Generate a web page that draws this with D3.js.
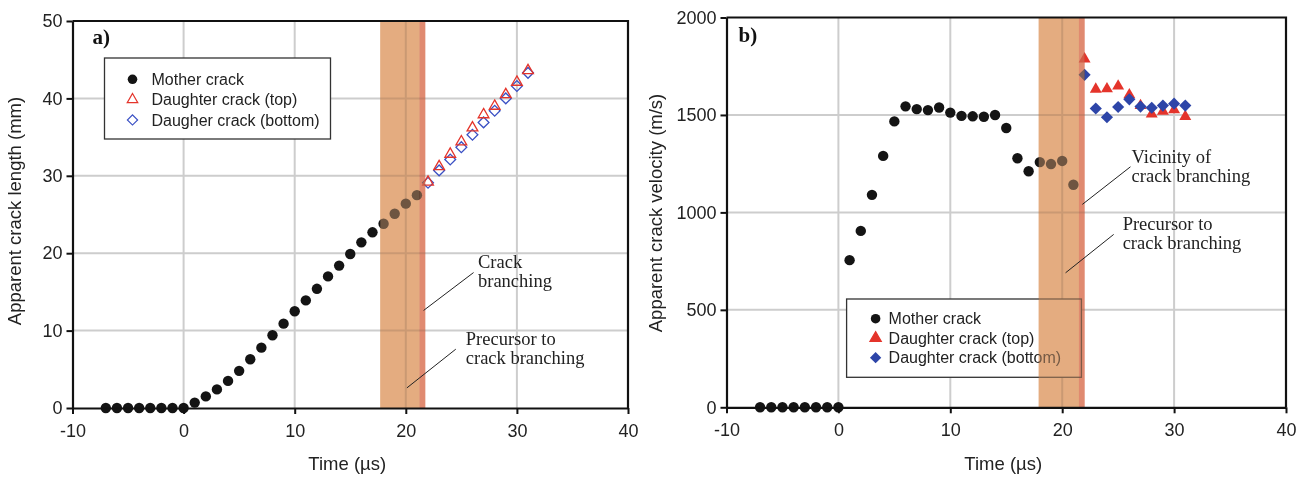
<!DOCTYPE html>
<html>
<head>
<meta charset="utf-8">
<script src="https://cdn.jsdelivr.net/npm/d3@7"></script>
<style>
  html, body { margin: 0; padding: 0; background: #fff; }
  svg { display: block; }
  .tick text { font-family: "Liberation Sans", Arial, sans-serif; font-size: 18px; fill: #222; }
  .axis-title { font-family: "Liberation Sans", Arial, sans-serif; font-size: 18.5px; fill: #222; }
  .legend-text { font-family: "Liberation Sans", Arial, sans-serif; font-size: 16px; fill: #222; }
  .note { font-family: "Liberation Serif", "Times New Roman", serif; font-size: 18.5px; fill: #222; }
  .panel-tag { font-family: "Liberation Serif", "Times New Roman", serif; font-size: 21px; font-weight: bold; fill: #111; }
</style>
</head>
<body>
<svg id="chart" width="1310" height="477"></svg>
<script>
// ---- data -------------------------------------------------------------
const timeMother = [-7, -6, -5, -4, -3, -2, -1, 0, 1, 2, 3, 4, 5, 6, 7, 8, 9, 10,
                    11, 12, 13, 14, 15, 16, 17, 18, 19, 20, 21];
const timeDaughter = [22, 23, 24, 25, 26, 27, 28, 29, 30, 31];

// crack length (mm)
const lengthMother = [0, 0, 0, 0, 0, 0, 0, 0, 0.7, 1.5, 2.4, 3.5, 4.8, 6.3, 7.8, 9.4,
                      10.9, 12.5, 13.9, 15.4, 17.0, 18.4, 19.9, 21.4, 22.7, 23.8, 25.1, 26.4, 27.5];
const lengthTop    = [29.2, 31.2, 32.8, 34.4, 36.2, 37.9, 39.0, 40.5, 42.1, 43.6];
const lengthBottom = [29.1, 30.7, 32.1, 33.7, 35.3, 36.9, 38.4, 40.0, 41.6, 43.3];

// crack velocity (m/s)
const velocityMother = [0, 0, 0, 0, 0, 0, 0, 0, 755, 905, 1090, 1290, 1467, 1544, 1530, 1525,
                        1538, 1512, 1495, 1493, 1491, 1500, 1433, 1278, 1211, 1258, 1248, 1264, 1142];
const velocityTop    = [1787, 1632, 1634, 1648, 1603, 1548, 1504, 1519, 1526, 1492];
const velocityBottom = [1706, 1533, 1488, 1541, 1580, 1543, 1537, 1548, 1558, 1548];

// axis ticks
const timeTicks = [-10, 0, 10, 20, 30, 40];
const lengthTicks = [0, 10, 20, 30, 40, 50];
const velocityTicks = [0, 500, 1000, 1500, 2000];

// shaded time windows [precursor start, branching start, branching end] (µs)
const bandLength = [17.7, 21.25, 21.75];
const bandVelocity = [17.9, 21.5, 22.0];

// legend labels
const legendLength = ["Mother crack", "Daughter crack (top)", "Daugher crack (bottom)"];
const legendVelocity = ["Mother crack", "Daughter crack (top)", "Daughter crack (bottom)"];

// ---- drawing ----------------------------------------------------------
const svg = d3.select("#chart");
svg.append("rect").attr("width", 1310).attr("height", 477).attr("fill", "#fff");

const RED = "#e4342b", BLUE = "#2d45a8", BLACK = "#141414";
const plainNumber = d => String(d);   // keeps an ASCII hyphen on negatives

function zip(xs, ys) { return xs.map((t, i) => [t, ys[i]]); }

function drawPanel(o) {
  const f = o.frame;
  const x = d3.scaleLinear().domain([-10, 40]).range([f.left, f.right]);
  const y = d3.scaleLinear().domain([o.yTicks[0], o.yTicks[o.yTicks.length - 1]]).range([f.bottom, f.top]);
  const g = svg.append("g");

  // grid
  const grid = g.append("g").attr("stroke", "#cdcdcd").attr("stroke-width", 2);
  grid.selectAll(".gx").data(timeTicks.slice(1, -1)).join("line")
    .attr("x1", d => x(d)).attr("x2", d => x(d)).attr("y1", f.top).attr("y2", f.bottom);
  grid.selectAll(".gy").data(o.yTicks.slice(1, -1)).join("line")
    .attr("x1", f.left).attr("x2", f.right).attr("y1", d => y(d)).attr("y2", d => y(d));

  // legend
  const lg = g.append("g");
  const L = o.legend;
  lg.append("rect").attr("x", L.x).attr("y", L.y).attr("width", L.w).attr("height", L.h)
    .attr("fill", "#fff").attr("stroke", "#333").attr("stroke-width", 1.3);
  const symbols = [
    {type: d3.symbolCircle, size: 72, fill: BLACK, stroke: "none", rot: 0},
    {type: d3.symbolTriangle, size: o.filled ? 56 : 48, fill: o.filled ? RED : "none", stroke: RED, rot: 0},
    {type: d3.symbolSquare, size: o.filled ? 64 : 52, fill: o.filled ? BLUE : "none", stroke: o.filled ? "none" : "#3a50c4", rot: 45}
  ];
  L.labels.forEach((lab, i) => {
    const s = symbols[i];
    const cy = L.y + L.row0 + i * L.rowStep;
    lg.append("path").attr("d", d3.symbol().type(s.type).size(s.size)())
      .attr("transform", `translate(${L.x + L.mx},${cy}) rotate(${s.rot})`)
      .attr("fill", s.fill).attr("stroke", s.stroke).attr("stroke-width", 1.2);
    lg.append("text").attr("class", "legend-text").attr("x", L.x + L.tx).attr("y", cy).attr("dy", "0.36em").text(lab);
  });

  // marks
  const marks = g.append("g");
  marks.selectAll(".m").data(zip(timeMother, o.mother)).join("circle")
    .attr("cx", d => x(d[0])).attr("cy", d => y(d[1])).attr("r", 5.2).attr("fill", BLACK);
  if (o.filled) {
    marks.selectAll(".t").data(zip(timeDaughter, o.top)).join("path")
      .attr("d", d3.symbol().type(d3.symbolTriangle).size(62)())
      .attr("transform", d => `translate(${x(d[0])},${y(d[1])})`).attr("fill", RED);
    marks.selectAll(".b").data(zip(timeDaughter, o.bottom)).join("path")
      .attr("d", d3.symbol().type(d3.symbolSquare).size(74)())
      .attr("transform", d => `translate(${x(d[0])},${y(d[1])}) rotate(45)`).attr("fill", BLUE);
  } else {
    marks.selectAll(".b").data(zip(timeDaughter, o.bottom)).join("path")
      .attr("d", d3.symbol().type(d3.symbolSquare).size(58)())
      .attr("transform", d => `translate(${x(d[0])},${y(d[1])}) rotate(45)`)
      .attr("fill", "none").attr("stroke", "#3a50c4").attr("stroke-width", 1.3);
    marks.selectAll(".t").data(zip(timeDaughter, o.top)).join("path")
      .attr("d", d3.symbol().type(d3.symbolTriangle).size(50)())
      .attr("transform", d => `translate(${x(d[0])},${y(d[1])})`)
      .attr("fill", "none").attr("stroke", RED).attr("stroke-width", 1.3);
  }

  // shaded windows: multiply tint plus a translucent veil
  const b = o.band;
  const spans = [
    {a: b[0], z: b[1], mult: "rgb(233,171,124)"},
    {a: b[1], z: b[2], mult: "rgb(226,110,96)"}
  ];
  spans.forEach(s => {
    g.append("rect").attr("x", x(s.a)).attr("width", x(s.z) - x(s.a))
      .attr("y", f.top).attr("height", f.bottom - f.top)
      .attr("fill", s.mult).style("mix-blend-mode", "multiply");
    g.append("rect").attr("x", x(s.a)).attr("width", x(s.z) - x(s.a))
      .attr("y", f.top).attr("height", f.bottom - f.top)
      .attr("fill", "rgb(222,173,133)").attr("fill-opacity", 0.45);
  });

  // annotations
  const an = g.append("g");
  o.notes.forEach(n => {
    an.append("line").attr("x1", x(n.from[0])).attr("y1", y(n.from[1]))
      .attr("x2", x(n.to[0])).attr("y2", y(n.to[1])).attr("stroke", "#222").attr("stroke-width", 1);
    const t = an.append("text").attr("class", "note").attr("x", x(n.at[0])).attr("y", y(n.at[1]));
    n.lines.forEach((ln, i) => t.append("tspan").attr("x", x(n.at[0])).attr("dy", i ? n.lh : 0).text(ln));
  });

  // axes and frame
  const ax = g.append("g").attr("transform", `translate(0,${f.bottom})`)
    .call(d3.axisBottom(x).tickValues(timeTicks).tickSize(6).tickSizeOuter(0).tickPadding(10).tickFormat(plainNumber));
  const ay = g.append("g").attr("transform", `translate(${f.left},0)`)
    .call(d3.axisLeft(y).tickValues(o.yTicks).tickSize(6).tickSizeOuter(0).tickPadding(4).tickFormat(plainNumber));
  [ax, ay].forEach(a => {
    a.select(".domain").attr("stroke", "#111").attr("stroke-width", 2.2);
    a.selectAll(".tick line").attr("stroke", "#111").attr("stroke-width", 2);
  });
  g.append("path").attr("d", `M${f.left},${f.top}H${f.right}V${f.bottom}`)
    .attr("fill", "none").attr("stroke", "#111").attr("stroke-width", 2.2);

  // titles
  g.append("text").attr("class", "axis-title").attr("text-anchor", "middle")
    .attr("x", (f.left + f.right) / 2 - 3).attr("y", 470).text("Time (µs)");
  g.append("text").attr("class", "axis-title").attr("text-anchor", "middle")
    .attr("transform", `translate(${o.yTitleX},${o.yTitleY}) rotate(-90)`).text(o.yTitle);
  g.append("text").attr("class", "panel-tag").attr("x", f.left + o.tag[0]).attr("y", f.top + o.tag[1]).text(o.tagText);
}

drawPanel({
  frame: {left: 72.5, right: 628, top: 21, bottom: 408},
  yTicks: lengthTicks,
  mother: lengthMother, top: lengthTop, bottom: lengthBottom,
  filled: false,
  band: bandLength,
  legend: {x: 104.5, y: 58, w: 226, h: 81, mx: 28, tx: 47, row0: 21.3, rowStep: 20.3, labels: legendLength},
  notes: [
    {lines: ["Crack", "branching"], at: [26.5, 18.1], lh: 19, from: [26.1, 17.5], to: [21.6, 12.6]},
    {lines: ["Precursor to", "crack branching"], at: [25.4, 8.2], lh: 19, from: [24.5, 7.6], to: [20.1, 2.6]}
  ],
  yTitle: "Apparent crack length (mm)", yTitleX: 21, yTitleY: 211,
  tag: [20, 23], tagText: "a)"
});

drawPanel({
  frame: {left: 726.5, right: 1286, top: 17.5, bottom: 407.3},
  yTicks: velocityTicks,
  mother: velocityMother, top: velocityTop, bottom: velocityBottom,
  filled: true,
  band: bandVelocity,
  legend: {x: 846.6, y: 299, w: 234.8, h: 78.3, mx: 29, tx: 42, row0: 19.7, rowStep: 19.5, labels: legendVelocity},
  notes: [
    {lines: ["Vicinity of", "crack branching"], at: [26.2, 1253], lh: 19, from: [26.1, 1234], to: [21.8, 1041]},
    {lines: ["Precursor to", "crack branching"], at: [25.4, 909], lh: 19, from: [24.6, 887], to: [20.3, 690]}
  ],
  yTitle: "Apparent crack velocity (m/s)", yTitleX: 662, yTitleY: 213,
  tag: [12, 24], tagText: "b)"
});
</script>
</body>
</html>
